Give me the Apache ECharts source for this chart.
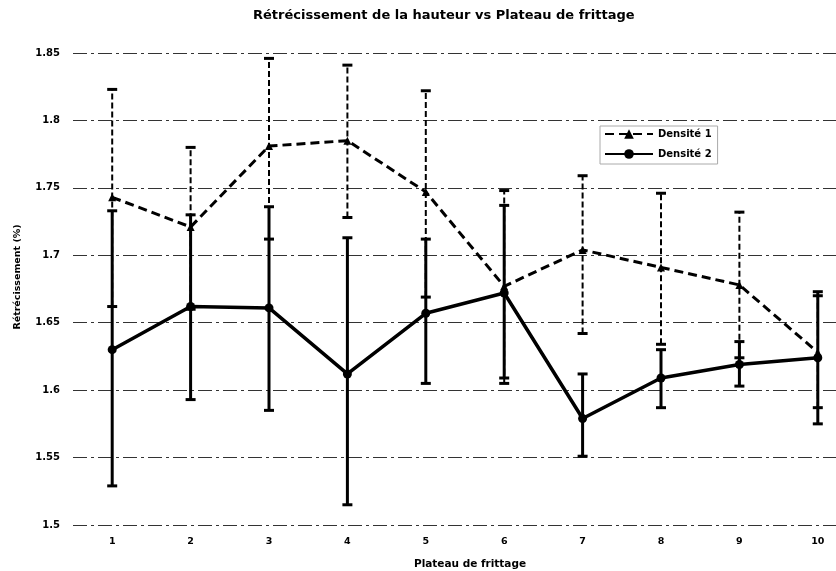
<!DOCTYPE html>
<html>
<head>
<meta charset="utf-8">
<script src="https://cdn.jsdelivr.net/npm/echarts@6/dist/echarts.min.js"></script>
<style>
  html, body { margin: 0; padding: 0; background: #fff; }
  #chart { width: 836px; height: 571px; }
</style>
</head>
<body>
<div id="chart"></div>
<script>
// Plateaux de frittage (axe des abscisses)
const plateaux = ['1', '2', '3', '4', '5', '6', '7', '8', '9', '10'];

// Densité 1 : moyenne et bornes des barres d'erreur
const densite1 = [1.743, 1.721, 1.781, 1.785, 1.747, 1.677, 1.704, 1.691, 1.678, 1.628];
const densite1Haut = [1.823, 1.780, 1.846, 1.841, 1.822, 1.748, 1.759, 1.746, 1.732, 1.670];
const densite1Bas = [1.662, 1.660, 1.712, 1.728, 1.669, 1.605, 1.642, 1.634, 1.624, 1.587];

// Densité 2 : moyenne et bornes des barres d'erreur
const densite2 = [1.630, 1.662, 1.661, 1.612, 1.657, 1.672, 1.579, 1.609, 1.619, 1.624];
const densite2Haut = [1.733, 1.730, 1.736, 1.713, 1.712, 1.737, 1.612, 1.630, 1.636, 1.673];
const densite2Bas = [1.529, 1.593, 1.585, 1.515, 1.605, 1.609, 1.551, 1.587, 1.603, 1.575];

// Axe des ordonnées
const yMin = 1.5, yMax = 1.85, yPas = 0.05;

const police = '"DejaVu Sans", Verdana, sans-serif';

function barresErreur(bas, haut) {
  return bas.map((b, i) => [i, b, haut[i]]);
}

function dessinBarre(style, demiCapuchon) {
  return function (params, api) {
    const x = api.value(0);
    const pBas = api.coord([x, api.value(1)]);
    const pHaut = api.coord([x, api.value(2)]);
    const capuchon = Object.assign({}, style, { lineDash: null, lineWidth: 3 });
    return {
      type: 'group',
      children: [
        { type: 'line', shape: { x1: pBas[0], y1: pBas[1], x2: pHaut[0], y2: pHaut[1] }, style: style },
        { type: 'line', shape: { x1: pHaut[0] - demiCapuchon, y1: pHaut[1], x2: pHaut[0] + demiCapuchon, y2: pHaut[1] }, style: capuchon },
        { type: 'line', shape: { x1: pBas[0] - demiCapuchon, y1: pBas[1], x2: pBas[0] + demiCapuchon, y2: pBas[1] }, style: capuchon }
      ]
    };
  };
}

const chart = echarts.init(document.getElementById('chart'), null, { renderer: 'canvas' });

chart.setOption({
  animation: false,
  backgroundColor: '#fff',
  title: {
    text: 'Rétrécissement de la hauteur vs Plateau de frittage',
    left: 248,
    top: 4,
    textStyle: { fontFamily: police, fontSize: 13, fontWeight: 'bold', color: '#000' }
  },
  legend: {
    orient: 'vertical',
    left: 600,
    top: 126,
    itemWidth: 48,
    itemHeight: 12,
    itemGap: 10,
    padding: [3, 6, 5, 4],
    borderColor: '#aaa',
    borderWidth: 1,
    textStyle: { fontFamily: police, fontSize: 10, fontWeight: 'bold', color: '#000' },
    data: ['Densité 1', 'Densité 2']
  },
  grid: { left: 73, right: -21, top: 53, bottom: 46, outerBoundsMode: 'none' },
  xAxis: {
    type: 'category',
    data: plateaux,
    boundaryGap: true,
    name: 'Plateau de frittage',
    nameLocation: 'middle',
    nameGap: 34,
    nameTextStyle: { fontFamily: police, fontSize: 10.5, fontWeight: 'bold', color: '#000', padding: [0, 0, 0, 10] },
    axisLine: { show: false },
    axisTick: { show: false },
    axisLabel: { fontFamily: police, fontSize: 9.5, fontWeight: 'bold', color: '#000', margin: 12 }
  },
  yAxis: {
    type: 'value',
    min: yMin,
    max: yMax,
    interval: yPas,
    name: 'Rétrécissement (%)',
    nameLocation: 'middle',
    nameGap: 50,
    nameRotate: 90,
    nameTextStyle: { fontFamily: police, fontSize: 9.5, fontWeight: 'bold', color: '#000', padding: [0, 0, 0, 24] },
    axisLine: { show: false },
    axisTick: { show: false },
    axisLabel: { fontFamily: police, fontSize: 10, fontWeight: 'bold', color: '#000', margin: 13 },
    splitLine: { lineStyle: { color: '#333', width: 1, type: [14, 4, 3, 4] } }
  },
  series: [
    {
      name: 'Barres Densité 1',
      type: 'custom',
      renderItem: dessinBarre({ stroke: '#000', lineWidth: 2, lineDash: [6, 3] }, 5),
      encode: { x: 0, y: [1, 2] },
      data: barresErreur(densite1Bas, densite1Haut),
      z: 2
    },
    {
      name: 'Barres Densité 2',
      type: 'custom',
      renderItem: dessinBarre({ stroke: '#000', lineWidth: 3 }, 5),
      encode: { x: 0, y: [1, 2] },
      data: barresErreur(densite2Bas, densite2Haut),
      z: 2
    },
    {
      name: 'Densité 1',
      type: 'line',
      data: densite1,
      symbol: 'triangle',
      symbolSize: 8,
      itemStyle: { color: '#000' },
      lineStyle: { color: '#000', width: 3, type: [9, 5] },
      z: 3
    },
    {
      name: 'Densité 2',
      type: 'line',
      data: densite2,
      symbol: 'circle',
      symbolSize: 9,
      itemStyle: { color: '#000' },
      lineStyle: { color: '#000', width: 3.5 },
      z: 3
    }
  ]
});
</script>
</body>
</html>
